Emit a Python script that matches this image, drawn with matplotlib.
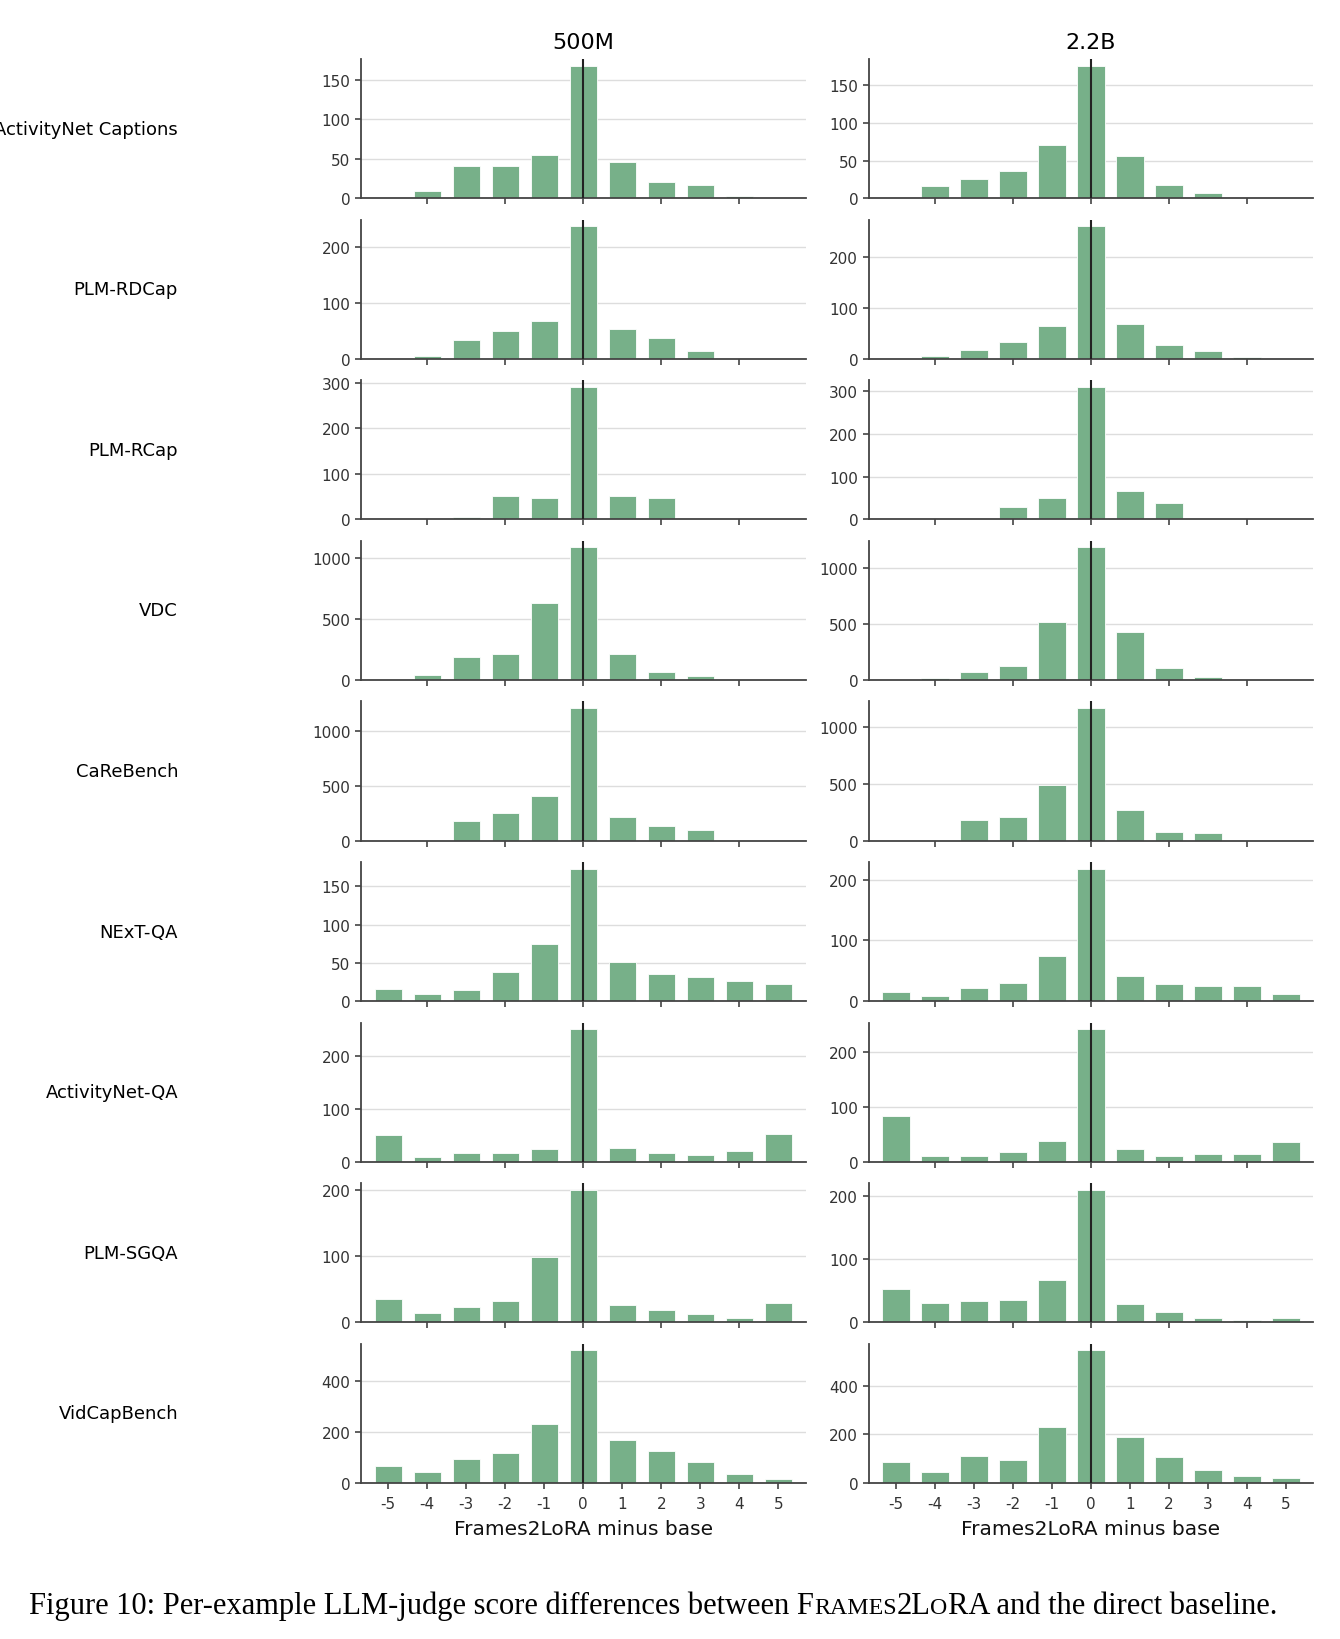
import matplotlib
matplotlib.use("Agg")
import matplotlib.pyplot as plt
from matplotlib.ticker import MaxNLocator

plt.rcParams["axes.unicode_minus"] = False

# score difference bins (Frames2LoRA minus base)
diffs = [-5, -4, -3, -2, -1, 0, 1, 2, 3, 4, 5]

datasets = ["ActivityNet Captions", "PLM-RDCap", "PLM-RCap", "VDC", "CaReBench",
            "NExT-QA", "ActivityNet-QA", "PLM-SGQA", "VidCapBench"]
models = ["500M", "2.2B"]

# counts per bin
anet_cap_500m = [0, 9, 41, 41, 55, 168, 46, 21, 17, 3, 0]
anet_cap_2b = [0, 16, 25, 36, 70, 176, 56, 17, 7, 0, 0]
rdcap_500m = [0, 5, 33, 50, 67, 238, 54, 37, 14, 1, 0]
rdcap_2b = [0, 5, 17, 34, 65, 261, 69, 28, 15, 3, 0]
rcap_500m = [0, 1, 6, 52, 46, 291, 51, 46, 1, 0, 0]
rcap_2b = [0, 0, 0, 28, 51, 309, 67, 39, 4, 0, 0]
vdc_500m = [0, 38, 190, 217, 629, 1089, 211, 68, 33, 0, 0]
vdc_2b = [0, 21, 73, 123, 513, 1179, 428, 103, 29, 0, 0]
carebench_500m = [0, 3, 177, 251, 404, 1207, 216, 129, 93, 0, 0]
carebench_2b = [0, 5, 179, 211, 488, 1165, 272, 78, 69, 0, 0]
nextqa_500m = [16, 10, 15, 38, 75, 173, 51, 35, 31, 27, 22]
nextqa_2b = [15, 8, 21, 30, 74, 218, 41, 28, 25, 25, 12]
anet_qa_500m = [51, 9, 17, 17, 25, 251, 27, 16, 12, 21, 53]
anet_qa_2b = [83, 11, 10, 17, 38, 241, 24, 10, 15, 14, 36]
sgqa_500m = [35, 14, 23, 33, 99, 200, 27, 19, 13, 7, 29]
sgqa_2b = [53, 31, 34, 35, 68, 210, 29, 16, 7, 4, 7]
vidcap_500m = [69, 45, 95, 119, 234, 522, 168, 127, 82, 36, 17]
vidcap_2b = [85, 45, 110, 96, 231, 545, 190, 107, 54, 28, 20]

rows = [
    (anet_cap_500m, anet_cap_2b),
    (rdcap_500m, rdcap_2b),
    (rcap_500m, rcap_2b),
    (vdc_500m, vdc_2b),
    (carebench_500m, carebench_2b),
    (nextqa_500m, nextqa_2b),
    (anet_qa_500m, anet_qa_2b),
    (sgqa_500m, sgqa_2b),
    (vidcap_500m, vidcap_2b),
]

bar_color = "#77b089"
spine_color = "#444444"

fig, axes = plt.subplots(len(datasets), 2, figsize=(13.4, 16.4), dpi=100)
plt.subplots_adjust(left=0.2694, right=0.98, top=0.9634, bottom=0.0951,
                    wspace=0.142, hspace=0.154)

for r, name in enumerate(datasets):
    for c in range(2):
        ax = axes[r, c]
        ax.bar(diffs, rows[r][c], width=0.7, color=bar_color,
               edgecolor="white", linewidth=0.6, zorder=2)
        ax.axvline(0, color="#222222", linewidth=1.5, zorder=3)
        ax.set_xlim(-5.7, 5.7)
        ax.yaxis.set_major_locator(MaxNLocator(nbins=4, steps=[1, 2, 5, 10]))
        ax.grid(axis="y", color="#dddddd", linewidth=1.0)
        ax.set_axisbelow(True)
        for side in ["top", "right"]:
            ax.spines[side].set_visible(False)
        for side in ["left", "bottom"]:
            ax.spines[side].set_color(spine_color)
            ax.spines[side].set_linewidth(1.3)
        ax.tick_params(colors=spine_color, labelcolor="#333333", labelsize=11,
                       length=4, width=1.2)
        ax.tick_params(axis="x", pad=5)
        if r == len(datasets) - 1:
            ax.set_xticks(diffs)
            ax.set_xlabel("Frames2LoRA minus base", fontsize=14.5,
                          color="#111111", labelpad=6)
        else:
            ax.set_xticks([-4, -2, 0, 2, 4])
            ax.set_xticklabels([])
        if r == 0:
            ax.set_title(models[c], fontsize=16, pad=8)

    # row label to the left of the first column
    pos = axes[r, 0].get_position()
    fig.text(178 / 1340, (pos.y0 + pos.y1) / 2, name, fontsize=13,
             ha="right", va="center")

# caption with small caps for the method name
caption = [("Figure 10: Per-example LLM-judge score differences between F", 1.0),
           ("RAMES", 0.78), ("2L", 1.0), ("O", 0.78),
           ("RA and the direct baseline.", 1.0)]
renderer = fig.canvas.get_renderer()
x = 29
base_size = 22
for txt, scale in caption:
    t = fig.text(x / 1340, 1 - 1614 / 1640, txt, fontsize=base_size * scale,
                 family="Liberation Serif", ha="left", va="baseline")
    bb = t.get_window_extent(renderer)
    x += bb.width

plt.savefig("out.png", dpi=100)
plt.close()
